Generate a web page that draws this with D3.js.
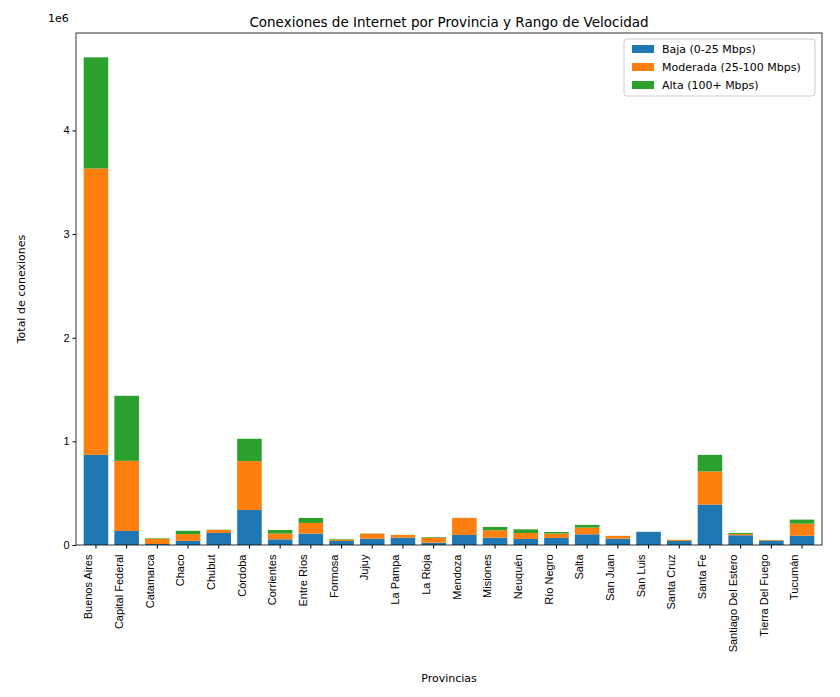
<!DOCTYPE html>
<html><head><meta charset="utf-8">
<script src="https://cdn.jsdelivr.net/npm/d3@7"></script>
<style>body{margin:0;background:#fff;font-family:"DejaVu Sans",sans-serif}</style>
</head><body><svg id="c" width="840" height="697"></svg>
<script>
// provinces and connection counts per speed range
const provincias = ["Buenos Aires","Capital Federal","Catamarca","Chaco","Chubut","Córdoba","Corrientes","Entre Ríos","Formosa","Jujuy","La Pampa","La Rioja","Mendoza","Misiones","Neuquén","Río Negro","Salta","San Juan","San Luis","Santa Cruz","Santa Fe","Santiago Del Estero","Tierra Del Fuego","Tucumán"];
const baja     = [870000,135000,10000,40000,116000,338000,55000,110000,39000,61000,71000,22000,97000,71000,58000,68000,103000,61000,126000,39000,390000,94000,42000,90000];
const moderada = [2763000,677000,50000,65000,29000,472000,55000,103000,13000,48000,26000,48000,164000,71000,58000,42000,65000,26000,1000,10000,320000,13000,6000,116000];
const alta     = [1072000,628000,5000,32000,2000,215000,35000,48000,5000,2000,1000,6000,1000,32000,35000,16000,26000,1000,1000,1000,160000,10000,1000,39000];
const series = ["Baja (0-25 Mbps)","Moderada (25-100 Mbps)","Alta (100+ Mbps)"];
const colores = ["#1f77b4","#ff7f0e","#2ca02c"];
const yTicks = [0,1e6,2e6,3e6,4e6];

const svg = d3.select("#c");
const m = {l:76, r:822, t:33, b:545};

const x = d3.scaleBand().domain(provincias).range([m.l, m.r]).paddingInner(0.2).paddingOuter(0.25);
const y = d3.scaleLinear().domain([0, 4940000]).range([m.b, m.t]);

const rows = provincias.map((p,i) => ({p, b:baja[i], m:moderada[i], a:alta[i]}));
const stack = d3.stack().keys(["b","m","a"])(rows);

svg.selectAll("g.s").data(stack).join("g").attr("fill", (d,i) => colores[i])
  .selectAll("rect").data(d => d).join("rect")
  .attr("x", d => x(d.data.p)).attr("width", x.bandwidth())
  .attr("y", d => y(d[1])).attr("height", d => y(d[0]) - y(d[1]));

svg.append("rect").attr("x", m.l).attr("y", m.t).attr("width", m.r-m.l).attr("height", m.b-m.t)
  .attr("fill","none").attr("stroke","#000").attr("stroke-width",0.8);

const xa = svg.append("g").attr("transform", `translate(0,${m.b})`)
  .call(d3.axisBottom(x).tickSize(3.5).tickPadding(4));
xa.select(".domain").remove();
xa.selectAll("text").attr("font-size",11).attr("fill","#000")
  .attr("transform","rotate(-90)").attr("text-anchor","end")
  .attr("dx","-0.5em").attr("dy","-0.35em").attr("y",0).attr("x",-4);

const ya = svg.append("g").attr("transform", `translate(${m.l},0)`)
  .call(d3.axisLeft(y).tickValues(yTicks).tickFormat(d => d/1e6).tickSize(3.5));
ya.select(".domain").remove();
ya.selectAll("text").attr("font-size",11).attr("fill","#000");

svg.append("text").attr("x",48).attr("y",22).attr("font-size",11).text("1e6");
svg.append("text").attr("x",(m.l+m.r)/2).attr("y",27).attr("text-anchor","middle").attr("font-size",13.5)
  .text("Conexiones de Internet por Provincia y Rango de Velocidad");
svg.append("text").attr("x",(m.l+m.r)/2).attr("y",682).attr("text-anchor","middle").attr("font-size",11).text("Provincias");
svg.append("text").attr("transform",`translate(25,${(m.t+m.b)/2}) rotate(-90)`).attr("text-anchor","middle")
  .attr("font-size",11).text("Total de conexiones");

const lg = svg.append("g").attr("transform","translate(624,39)");
lg.append("rect").attr("width",191).attr("height",57).attr("rx",3).attr("fill","#fff").attr("stroke","#ccc");
series.forEach((s,i) => {
  lg.append("rect").attr("x",8).attr("y",6+i*18).attr("width",22).attr("height",8).attr("fill",colores[i]);
  lg.append("text").attr("x",38).attr("y",14+i*18).attr("font-size",11).text(s);
});
</script></body></html>
